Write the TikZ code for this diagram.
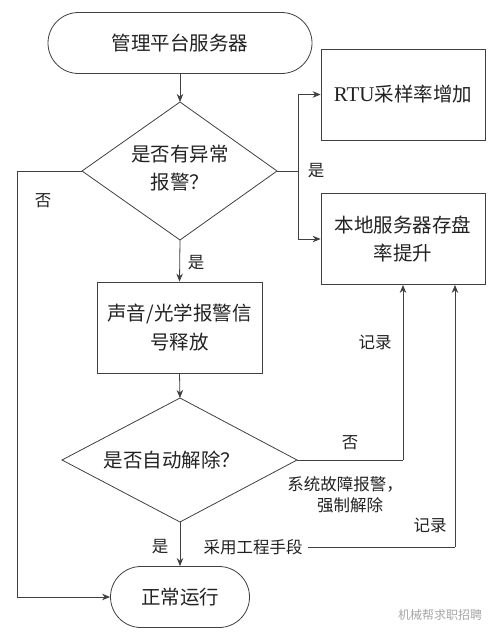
\documentclass[tikz,border=0pt]{standalone}
\usepackage{fontspec}
\setmainfont{Noto Sans CJK SC}
\newfontfamily\lat{Liberation Serif}
\usetikzlibrary{arrows.meta,shapes.misc,calc}
\definecolor{ln}{HTML}{404040}
\definecolor{tx}{HTML}{222222}
\tikzset{
  every node/.style={text=tx,inner sep=0pt},
  big/.style={font=\fontsize{19.5}{28.5}\selectfont,align=center},
  small/.style={font=\fontsize{16.5}{21}\selectfont,align=center},
  term/.style={draw=ln,line width=0.8pt,rounded rectangle,minimum height=61pt,big},
  boxn/.style={draw=ln,line width=0.8pt,rectangle,minimum width=164pt,minimum height=91pt,big},
  wire/.style={draw=ln,line width=0.8pt},
  arr/.style={wire,-{Stealth[length=8pt,width=6.5pt]}},
  dia/.style={draw=ln,line width=0.8pt}
}
\begin{document}
\begin{tikzpicture}[x=1pt,y=-1pt]
\useasboundingbox (0,0) rectangle (500,637);
% terminals
\node[term,minimum width=264pt] (start) at (180,43) {管理平台服务器};
\node[term,minimum width=139pt] (stop) at (180,597) {正常运行};
% boxes
\node[boxn] (rtu) at (403,94.5) {{\lat\fontsize{21}{28}\selectfont RTU}采样率增加};
\node[boxn] (loc) at (403,239) {本地服务器存盘\\率提升};
\node[boxn,minimum width=165pt] (sig) at (179.5,327.5) {声音/光学报警信\\号释放};
% diamond 1
\coordinate (d1t) at (180,102);
\coordinate (d1r) at (277,171);
\coordinate (d1b) at (180,240);
\coordinate (d1l) at (82,171);
\draw[dia] (d1t) -- (d1r) -- (d1b) -- (d1l) -- cycle;
\node[big] (d1text) at (180,168) {是否有异常\\报警？};
% diamond 2
\coordinate (d2t) at (180,398);
\coordinate (d2r) at (297,460);
\coordinate (d2b) at (180,522);
\coordinate (d2l) at (62,460);
\draw[dia] (d2t) -- (d2r) -- (d2b) -- (d2l) -- cycle;
\node[big] (d2text) at (172,460) {是否自动解除？};
% connectors
\draw[arr] (start.south) -- (d1t);
\coordinate (jr) at (298,171);
\draw[wire] (d1r) -- (jr);
\draw[arr] (jr) |- (rtu.west);
\draw[arr] (jr) |- (loc.west);
\coordinate (jl) at (17,171);
\draw[wire] (d1l) -- (jl);
\draw[arr] (jl) |- (stop.west);
\draw[arr] (d1b) -- (sig.north);
\draw[arr] (sig.south) -- (d2t);
\coordinate (jn) at (403,460);
\draw[wire] (d2r) -- (jn);
\draw[arr] (jn) -- (loc.south);
\draw[arr] (d2b) -- (stop.north);
\node[small] (eng) at (253,547) {采用工程手段};
\coordinate (je) at (455,547);
\draw[wire] ($(eng.east)+(5,0)$) -- (je);
\draw[arr] (je) -- (je |- loc.south);
% labels
\node[small] (y1) at (316,171) {是};
\node[small] (n1) at (43,201) {否};
\node[small] (y2) at (196,263) {是};
\node[small] (r1) at (375,342) {记录};
\node[small] (n2) at (350,443) {否};
\node[small] (f1) at (345,484) {系统故障报警，};
\node[small] (f2) at (350,505) {强制解除};
\node[small] (r2) at (430,525) {记录};
\node[small] (y3) at (160,547) {是};
\node[font=\fontsize{12}{14}\selectfont,text=gray!70] (wm) at (440,615) {机械帮求职招聘};
\end{tikzpicture}
\end{document}
